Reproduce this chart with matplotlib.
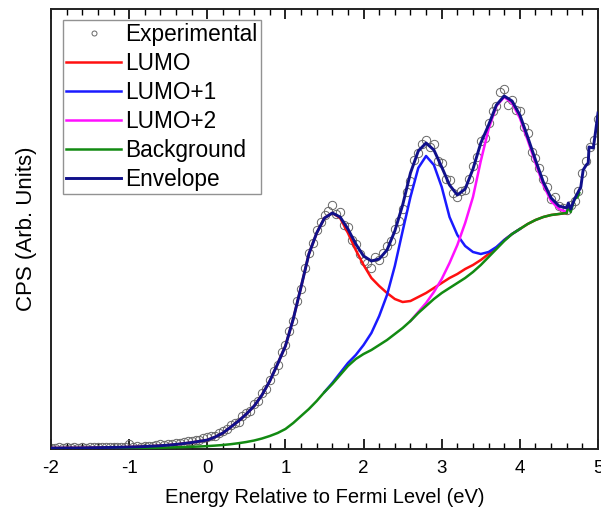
import numpy as np
import matplotlib
matplotlib.use("Agg")
import matplotlib.pyplot as plt
from matplotlib.ticker import MultipleLocator, NullLocator

plt.rcParams['font.family'] = ['Liberation Sans', 'DejaVu Sans']

# ---------------- data ----------------
grid = np.round(np.arange(-2.0, 4.61, 0.1), 2)          # -2.0 .. 4.6

envelope = [1, 1, 1.1, 1.1, 1.2, 1.3, 1.4, 1.5, 1.6, 1.8,
            2.0, 2.2, 2.5, 2.9, 3.3, 3.9, 4.6, 5.5, 6.5, 7.7,
            9, 12, 16, 22, 28, 35, 43, 54, 68, 85,
            103, 130, 162, 195, 216, 231, 236, 232, 220, 205,
            193, 188, 190, 199, 218, 244, 276, 298, 306, 299,
            282, 264, 254, 260, 280, 306, 324, 344, 353, 348,
            334, 312, 289, 267, 251, 243, 241]
env_tail_x = [4.62, 4.65, 4.70, 4.74, 4.78, 4.81, 4.85, 4.875, 4.885, 4.94, 4.97, 5.0]
env_tail_y = [246, 240, 250, 256, 262, 279, 284, 286, 302, 301, 318, 336]

background = [0.5, 0.5, 0.5, 0.5, 0.6, 0.6, 0.6, 0.7, 0.7, 0.8,
              0.9, 1.0, 1.1, 1.2, 1.3, 1.5, 1.7, 1.9, 2.2, 2.5,
              2.9, 3.4, 4.0, 4.8, 5.8, 7.0, 8.5, 10.5, 13, 16,
              20, 26, 33, 40, 48, 57, 65, 74, 83, 90,
              95, 99, 104, 109, 115, 121, 128, 136, 143, 150,
              156, 161, 166, 171, 177, 184, 192, 200, 208, 215,
              220, 225, 229, 232, 234, 235, 236]
bg_tail_x = [4.62, 4.65, 4.70, 4.74, 4.76]
bg_tail_y = [243, 237, 250, 252, 256]

lumo = [1, 1, 1.1, 1.1, 1.2, 1.3, 1.4, 1.5, 1.6, 1.8,
        2.0, 2.2, 2.5, 2.9, 3.3, 3.9, 4.6, 5.5, 6.5, 7.7,
        9, 12, 16, 22, 28, 35, 43, 54, 68, 85,
        103, 130, 162, 195, 216, 231, 236, 231, 216, 199,
        184, 171, 163, 156, 150, 147, 148, 152, 156, 161,
        166, 171, 175, 180, 184, 189, 195, 201, 209, 215,
        220, 225, 229, 232, 234, 235, 236]

lumo1_x = np.round(np.arange(1.5, 4.01, 0.1), 2)
lumo1 = [57, 66, 76, 86, 94, 104, 116, 133, 154, 183,
         218, 252, 281, 293, 284, 262, 232, 214, 203, 197,
         195, 197, 202, 209, 215, 220]

lumo2_x = np.round(np.arange(2.6, 4.61, 0.1), 2)
lumo2 = [128, 137, 146, 157, 170, 186, 204, 226, 252, 288,
         320, 343, 352, 346, 331, 309, 286, 264, 248, 240, 237]

exp_x = np.round(np.arange(-2.0, 5.001, 0.05), 2)
experimental = [1.5, 1.2, 1.8, 1.4, 1.6, 1.3, 1.9, 1.5, 1.7, 1.4,
                2.0, 1.6, 1.8, 2.1, 1.7, 2.0, 2.2, 1.9, 2.3, 2.1,
                5.5, 2.4, 2.8, 2.5, 3.0, 3.4, 3.1, 3.9, 4.6, 4.2,
                5.3, 5.0, 6.2, 6.0, 7.1, 7.6, 8.2, 9.3, 9.0, 10.8,
                12.0, 13.5, 13.2, 16.5, 18.0, 20.5, 24.0, 26.5, 27.5, 33.0,
                36.5, 38.0, 45.0, 48.0, 56.0, 60.0, 69.0, 78.0, 84.0, 97.0,
                104, 118, 128, 148, 160, 181, 196, 206, 219, 227,
                234, 238, 244, 235, 237, 224, 222, 209, 205, 195,
                188, 186, 181, 192, 189, 196, 203, 208, 220, 228,
                240, 257, 268, 289, 296, 305, 309, 302, 305, 288,
                286, 270, 269, 256, 252, 258, 259, 270, 283, 292,
                308, 311, 326, 338, 343, 357, 360, 344, 349, 339,
                338, 322, 316, 297, 291, 281, 270, 262, 250, 252,
                243, 241, 239, 244, 248, 258, 276, 288, 302, 309,
                330]

x_ticks = [-2, -1, 0, 1, 2, 3, 4, 5]

# ---------------- plot ----------------
fig = plt.figure(figsize=(6.01, 5.15), dpi=100)
ax = fig.add_axes([51 / 601, 66 / 515, 547 / 601, 440 / 515])

ax.plot(exp_x, experimental, linestyle='none', marker='o', markersize=6,
        markerfacecolor='none', markeredgecolor='#666666', markeredgewidth=0.7,
        label='Experimental', zorder=2)
ax.plot(grid, lumo, color='#ff1010', lw=1.8, label='LUMO', zorder=3)
ax.plot(lumo1_x, lumo1, color='#1a1aff', lw=1.8, label='LUMO+1', zorder=3)
ax.plot(lumo2_x, lumo2, color='#ff10ff', lw=1.8, label='LUMO+2', zorder=3)
ax.plot(np.concatenate([grid, bg_tail_x]), background + bg_tail_y,
        color='#128a12', lw=1.8, label='Background', zorder=3)
ax.plot(np.concatenate([grid, env_tail_x]), envelope + env_tail_y,
        color='#10108a', lw=2.1, label='Envelope', zorder=4)

ax.set_xlim(-2, 5)
ax.set_ylim(0, 440)
ax.set_xticks(x_ticks)
ax.set_xticklabels([str(t) for t in x_ticks])
ax.xaxis.set_minor_locator(MultipleLocator(0.2))
ax.yaxis.set_major_locator(NullLocator())
ax.tick_params(axis='x', which='major', direction='in', length=7, width=1.2,
               top=True, labelsize=13.5, pad=8)
ax.tick_params(axis='x', which='minor', direction='in', length=4, width=1.0, top=True)
for sp in ax.spines.values():
    sp.set_linewidth(1.4)
    sp.set_color('#222222')

ax.set_xlabel('Energy Relative to Fermi Level (eV)', fontsize=14.5, labelpad=8)
ax.set_ylabel('CPS (Arb. Units)', fontsize=16, labelpad=10)

leg = ax.legend(loc='upper left', bbox_to_anchor=(0.022, 0.975), fontsize=16.3,
                frameon=True, fancybox=False, edgecolor='#777777',
                handlelength=2.4, handletextpad=0.2, labelspacing=0.26,
                borderpad=0.15, borderaxespad=0.0, markerscale=0.6)
leg.get_frame().set_linewidth(1.0)

fig.savefig('out.png', dpi=100)
